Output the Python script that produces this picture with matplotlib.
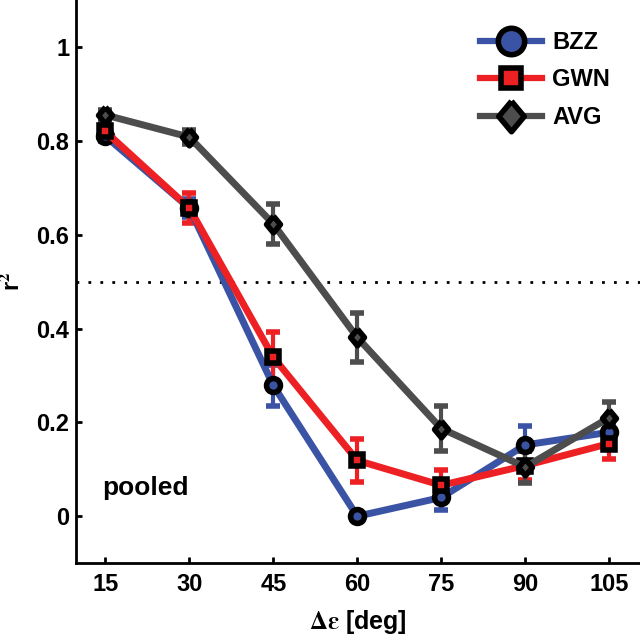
import matplotlib.pyplot as plt
from matplotlib.lines import Line2D
import numpy as np

# data
angles = [15, 30, 45, 60, 75, 90, 105]
bzz = [0.81, 0.657, 0.279, 0.0, 0.04, 0.152, 0.179]
bzz_err = [0.01, 0.02, 0.043, 0.005, 0.027, 0.04, 0.02]
gwn = [0.82, 0.657, 0.339, 0.119, 0.066, 0.108, 0.155]
gwn_err = [0.01, 0.032, 0.054, 0.045, 0.032, 0.03, 0.032]
avg = [0.855, 0.808, 0.623, 0.381, 0.187, 0.105, 0.21]
avg_err = [0.01, 0.015, 0.043, 0.053, 0.047, 0.035, 0.033]
names = ['BZZ', 'GWN', 'AVG']

plt.rcParams['font.family'] = ['Liberation Sans', 'DejaVu Sans']
plt.rcParams['font.weight'] = 'bold'
plt.rcParams['mathtext.fontset'] = 'stix'

# tall diamond like the reference
diamond = [(0, 1.2), (1, 0), (0, -1.2), (-1, 0), (0, 1.2)]

fig = plt.figure(figsize=(6.4, 6.4), dpi=100)
ax = fig.add_axes([0.119, 0.12, 0.881, 0.88])

series = [
    (bzz, bzz_err, '#3a53a4', 'o', 10, 19),
    (gwn, gwn_err, '#ed2024', 's', 9, 14),
    (avg, avg_err, '#4d4d4d', diamond, 12, 22),
]
handles = []
for name, (vals, err, col, mk, ms, lms) in zip(names, series):
    ax.errorbar(angles, vals, yerr=err, color=col, lw=5, elinewidth=3,
                capsize=5, capthick=3, marker=mk, ms=ms,
                mfc=col, mec='black', mew=4)
    handles.append(Line2D([], [], color=col, lw=4.5, marker=mk,
                          ms=lms, mfc=col, mec='black', mew=4))

ax.axhline(0.5, color='black', ls=(0, (1, 3.3)), lw=2)

ax.set_xlim(9.8, 110.5)
ax.set_ylim(-0.1, 1.1)
ax.set_xticks(angles)
ax.set_yticks([0, 0.2, 0.4, 0.6, 0.8, 1])
ax.set_yticklabels(['0', '0.2', '0.4', '0.6', '0.8', '1'])
ax.tick_params(direction='in', length=4, width=2, labelsize=17)
ax.tick_params(axis='y', pad=5)
ax.tick_params(axis='x', pad=7)
for lab in ax.get_xticklabels() + ax.get_yticklabels():
    lab.set_fontweight('bold')

ax.spines['top'].set_visible(False)
ax.spines['right'].set_visible(False)
ax.spines['left'].set_linewidth(2)
ax.spines['bottom'].set_linewidth(2)

ax.set_ylabel('r$^\\mathbf{2}$', fontsize=17, fontweight='bold')
ax.yaxis.set_label_coords(-0.093, 0.5)
ax.set_xlabel('$\\mathrm{\\Delta\\varepsilon}$ [deg]', fontsize=18,
              fontweight='bold', labelpad=9)
ax.text(14.5, 0.045, 'pooled', fontsize=19, fontweight='bold')

leg = ax.legend(handles, names, loc='upper right', bbox_to_anchor=(0.985, 0.983),
                frameon=False, fontsize=17, handlelength=2.6, labelspacing=0.62,
                handletextpad=0.45)
for t in leg.get_texts():
    t.set_fontweight('bold')

fig.savefig('out.png', dpi=100)
